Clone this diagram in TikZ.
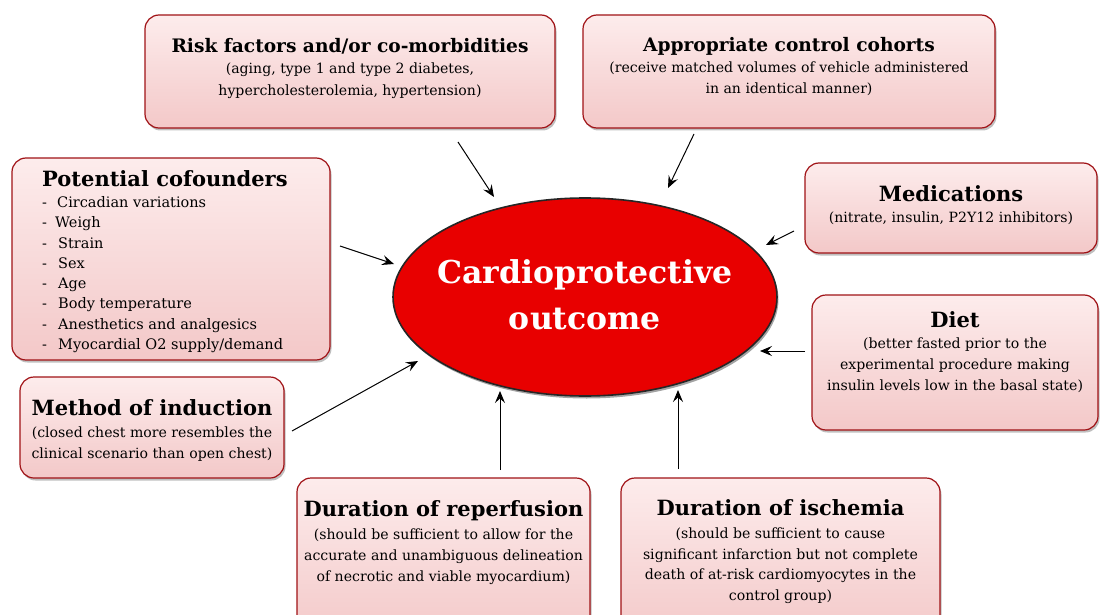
\documentclass[tikz,border=0pt]{standalone}
\usepackage{fontspec}
\setmainfont{DejaVu Serif}
\usetikzlibrary{arrows.meta,shadows,shapes.geometric}

\definecolor{boxtop}{RGB}{253,236,236}
\definecolor{boxmid}{RGB}{252,228,228}
\definecolor{boxbot}{RGB}{243,200,200}
\definecolor{boxedge}{RGB}{160,18,22}
\definecolor{ovalred}{RGB}{232,0,0}

\begin{document}
\begin{tikzpicture}[x=1pt,y=-1pt,
  box/.style={draw=boxedge, line width=1.2pt, rounded corners=14pt,
    top color=boxtop, middle color=boxmid, bottom color=boxbot,
    drop shadow={shadow xshift=1.5pt, shadow yshift=-2.5pt, fill=black!50, opacity=0.5},
    inner sep=0pt},
  oval/.style={ellipse, draw=black!85, line width=1.6pt, fill=ovalred,
    drop shadow={shadow xshift=1.5pt, shadow yshift=-2.5pt, fill=black!60, opacity=0.6},
    inner sep=0pt, minimum width=384pt, minimum height=198pt},
  ovaltxt/.style={inner sep=0pt, text=white, font=\fontsize{31.5}{46}\selectfont\bfseries, align=center},
  txt/.style={align=center, inner sep=0pt, anchor=north, font=\fontsize{14.1}{21}\selectfont},
  arr/.style={-{Stealth[length=12pt,width=10pt,inset=4.5pt]}, line width=1pt, black}
]
\useasboundingbox (0,0) rectangle (1100,615);
\clip (0,0) rectangle (1100,615);

% boxes
\node[box, minimum width=410pt, minimum height=113pt] (risk) at (350,71.5) {};
\node[box, minimum width=412pt, minimum height=113pt] (ctrl) at (789,71.5) {};
\node[box, minimum width=318pt, minimum height=202pt] (cof) at (171,259) {};
\node[box, minimum width=292pt, minimum height=90pt] (med) at (951,208) {};
\node[box, minimum width=286pt, minimum height=135pt] (diet) at (955,362.5) {};
\node[box, minimum width=264pt, minimum height=101pt] (meth) at (152,427.5) {};
\node[box, minimum width=293pt, minimum height=162pt] (rep) at (443.5,559) {};
\node[box, minimum width=319pt, minimum height=162pt] (isch) at (780.5,559) {};

% central ellipse
\node[oval] (out) at (585,297) {};
\node[ovaltxt] (outT) at (585,295) {Cardioprotective\\outcome};

% texts
\node[txt] (riskT) at (350,38.5) {{\fontsize{18.6}{22}\selectfont\bfseries Risk factors and/or co-morbidities}\\[0pt]
  (aging, type 1 and type 2 diabetes,\\[1pt]hypercholesterolemia, hypertension)};
\node[txt] (ctrlT) at (789,37.5) {{\fontsize{18.6}{22}\selectfont\bfseries Appropriate control cohorts}\\[0pt]
  (receive matched volumes of vehicle administered\\in an identical manner)};
\node[txt, anchor=north west, align=left, font=\fontsize{14.5}{20.3}\selectfont] (cofT) at (42,170) {{\fontsize{21}{24}\selectfont\bfseries Potential cofounders}\\[1pt]
  \makebox[15pt][l]{-}Circadian variations\\
  \makebox[13pt][l]{-}Weigh\\
  \makebox[16pt][l]{-}Strain\\
  \makebox[16pt][l]{-}Sex\\
  \makebox[16pt][l]{-}Age\\
  \makebox[16pt][l]{-}Body temperature\\
  \makebox[16pt][l]{-}Anesthetics and analgesics\\
  \makebox[16pt][l]{-}Myocardial O2 supply/demand};
\node[txt] (medT) at (951,185.5) {{\fontsize{21}{24}\selectfont\bfseries Medications}\\[0pt]
  (nitrate, insulin, P2Y12 inhibitors)};
\node[txt] (dietT) at (955,311.5) {{\fontsize{21}{24}\selectfont\bfseries Diet}\\[0pt]
  (better fasted prior to the\\experimental procedure making\\insulin levels low in the basal state)};
\node[txt] (methT) at (152,399) {{\fontsize{21}{24}\selectfont\bfseries Method of induction}\\[1.5pt]
  (closed chest more resembles the\\clinical scenario than open chest)};
\node[txt] (repT) at (443.5,500) {{\fontsize{21}{24}\selectfont\bfseries Duration of reperfusion}\\[2.5pt]
  (should be sufficient to allow for the\\accurate and unambiguous delineation\\of necrotic and viable myocardium)};
\node[txt] (ischT) at (780.5,499) {{\fontsize{21}{24}\selectfont\bfseries Duration of ischemia}\\[2.5pt]
  (should be sufficient to cause\\[-0.5pt]significant infarction but not complete\\[-0.5pt]death of at-risk cardiomyocytes in the\\[-0.5pt]control group)};

% arrow end points
\coordinate (a1s) at (458,142); \coordinate (a1e) at (494,197);
\coordinate (a2s) at (694,134); \coordinate (a2e) at (668,188);
\coordinate (a3s) at (340,246); \coordinate (a3e) at (394,264);
\coordinate (a4s) at (794,231); \coordinate (a4e) at (766,245);
\coordinate (a5s) at (805,351); \coordinate (a5e) at (760,351);
\coordinate (a6s) at (292,431); \coordinate (a6e) at (418,361);
\coordinate (a7s) at (500,470); \coordinate (a7e) at (500,391);
\coordinate (a8s) at (678,469); \coordinate (a8e) at (678,390);

\draw[arr] (a1s) -- (a1e);
\draw[arr] (a2s) -- (a2e);
\draw[arr] (a3s) -- (a3e);
\draw[arr] (a4s) -- (a4e);
\draw[arr] (a5s) -- (a5e);
\draw[arr] (a6s) -- (a6e);
\draw[arr] (a7s) -- (a7e);
\draw[arr] (a8s) -- (a8e);
\end{tikzpicture}
\end{document}
